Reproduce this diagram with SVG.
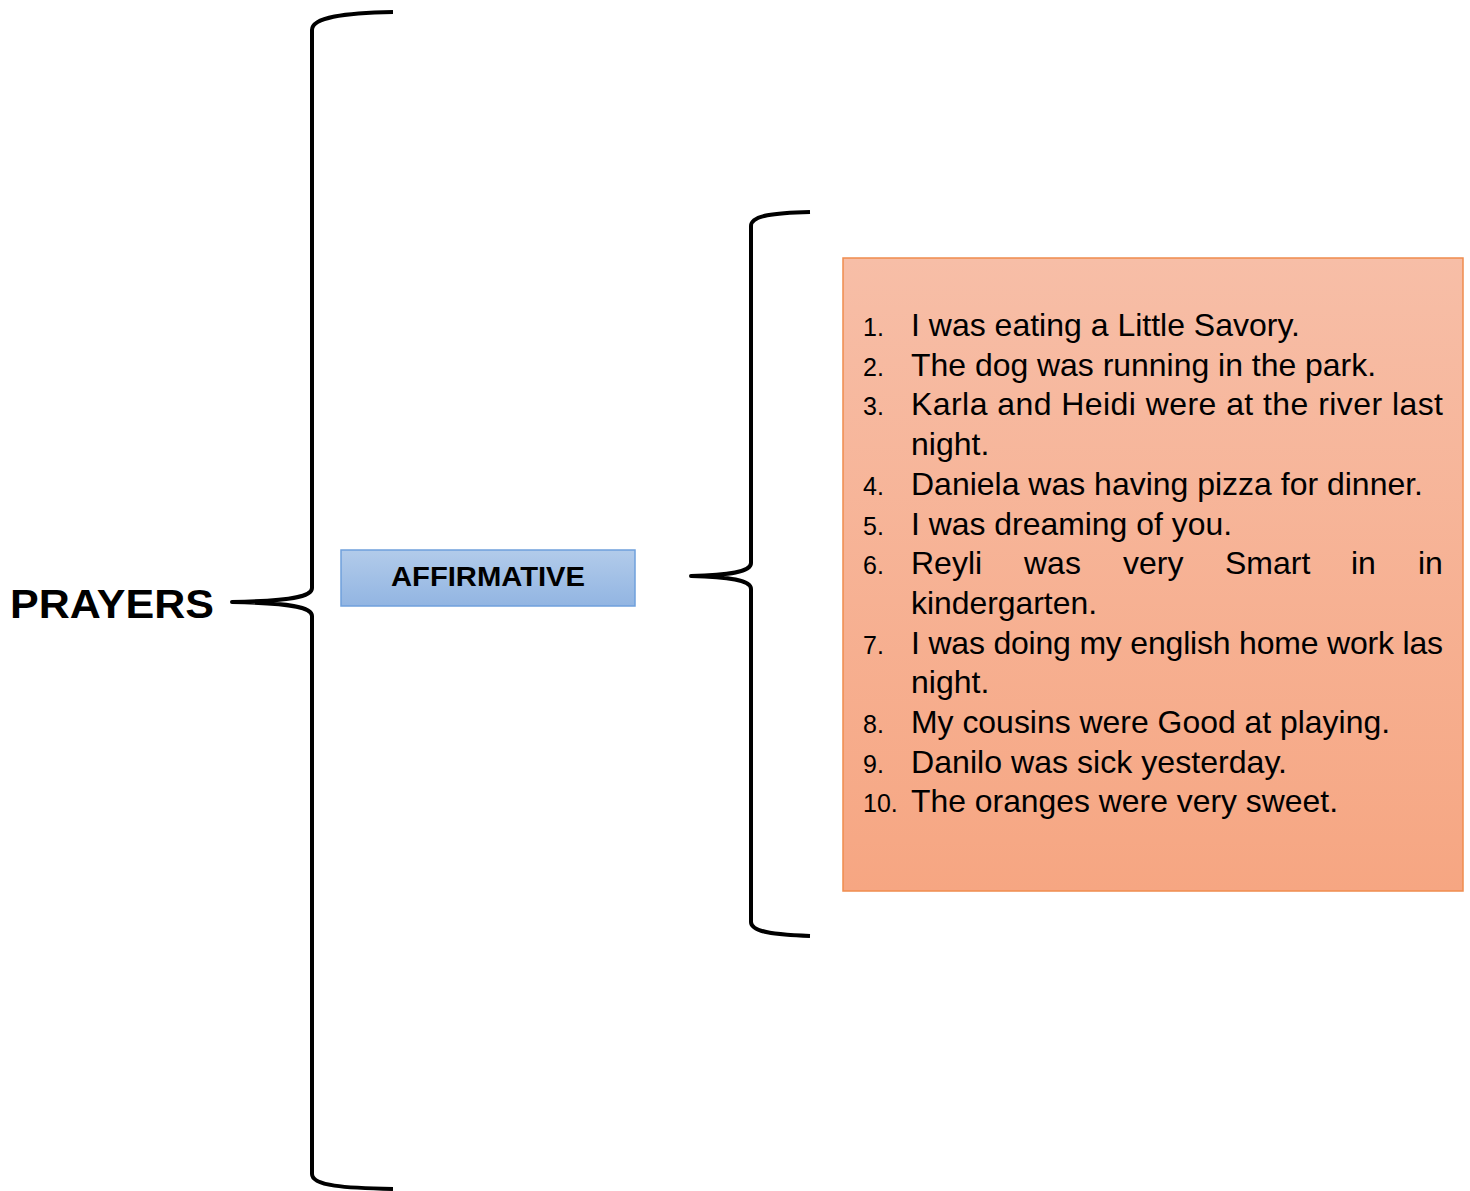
<svg xmlns="http://www.w3.org/2000/svg" width="1470" height="1191" viewBox="0 0 1470 1191">
<defs>
<linearGradient id="gBlue" x1="0" y1="0" x2="0" y2="1"><stop offset="0" stop-color="#b2cbea"/><stop offset="1" stop-color="#92b5e2"/></linearGradient>
<linearGradient id="gOrange" x1="0" y1="0" x2="0" y2="1"><stop offset="0" stop-color="#f7bea7"/><stop offset="1" stop-color="#f6a682"/></linearGradient>
<style>
.brace{fill:none;stroke:#000;stroke-width:4;stroke-linejoin:round}
.t{font-family:'Liberation Sans',Arial,sans-serif;fill:#000}
.item{font-size:32px}
.num{font-size:25px}
</style>
</defs>
<rect width="1470" height="1191" fill="#fff"/>
<g id="connectors">
<path class="brace" d="M393,12 C345,13 312,17 312,30 L312,588 C312,597 290,601 232,602 C290,603 312,607 312,616 L312,1174 C312,1186 345,1188 393,1189"/>
<path class="brace" d="M810,212 C775,213 751,215 751,226 L751,563 C751,572 730,575 691,576 C730,577 751,580 751,589 L751,922 C751,932 775,935 810,936"/>
</g>
<g id="prayers">
<text class="t" x="10" y="618" font-size="41" font-weight="bold" textLength="204" lengthAdjust="spacingAndGlyphs">PRAYERS</text>
</g>
<g id="affirmative">
<rect x="341" y="550" width="294" height="56" fill="url(#gBlue)" stroke="#6fa0dc" stroke-width="1.5"/>
<text class="t" x="391" y="586" font-size="27" font-weight="bold" textLength="194" lengthAdjust="spacingAndGlyphs">AFFIRMATIVE</text>
</g>
<g id="list">
<rect x="843" y="258" width="620" height="633" fill="url(#gOrange)" stroke="#f08c4e" stroke-width="1.5"/>
<g class="t num">
<text x="863" y="336">1.</text>
<text x="863" y="375.7">2.</text>
<text x="863" y="415.4">3.</text>
<text x="863" y="494.8">4.</text>
<text x="863" y="534.5">5.</text>
<text x="863" y="574.2">6.</text>
<text x="863" y="653.6">7.</text>
<text x="863" y="733">8.</text>
<text x="863" y="772.7">9.</text>
<text x="863" y="812.4">10.</text>
</g>
<g class="t item">
<text x="911" y="336" textLength="389" lengthAdjust="spacingAndGlyphs">I was eating a Little Savory.</text>
<text x="911" y="375.7" textLength="465" lengthAdjust="spacingAndGlyphs">The dog was running in the park.</text>
<text x="911" y="415.4" textLength="532" lengthAdjust="spacing">Karla and Heidi were at the river last</text>
<text x="911" y="455">night.</text>
<text x="911" y="494.8" textLength="512" lengthAdjust="spacingAndGlyphs">Daniela was having pizza for dinner.</text>
<text x="911" y="534.5" textLength="321" lengthAdjust="spacingAndGlyphs">I was dreaming of you.</text>
<text y="574.2"><tspan x="911">Reyli</tspan><tspan x="1024">was</tspan><tspan x="1123">very</tspan><tspan x="1225">Smart</tspan><tspan x="1351">in</tspan><tspan x="1418">in</tspan></text>
<text x="911" y="614" textLength="186" lengthAdjust="spacingAndGlyphs">kindergarten.</text>
<text x="911" y="653.6" textLength="532" lengthAdjust="spacing">I was doing my english home work las</text>
<text x="911" y="693.3">night.</text>
<text x="911" y="733" textLength="479" lengthAdjust="spacingAndGlyphs">My cousins were Good at playing.</text>
<text x="911" y="772.7" textLength="376" lengthAdjust="spacingAndGlyphs">Danilo was sick yesterday.</text>
<text x="911" y="812.4" textLength="427" lengthAdjust="spacingAndGlyphs">The oranges were very sweet.</text>
</g>
</g>
</svg>
